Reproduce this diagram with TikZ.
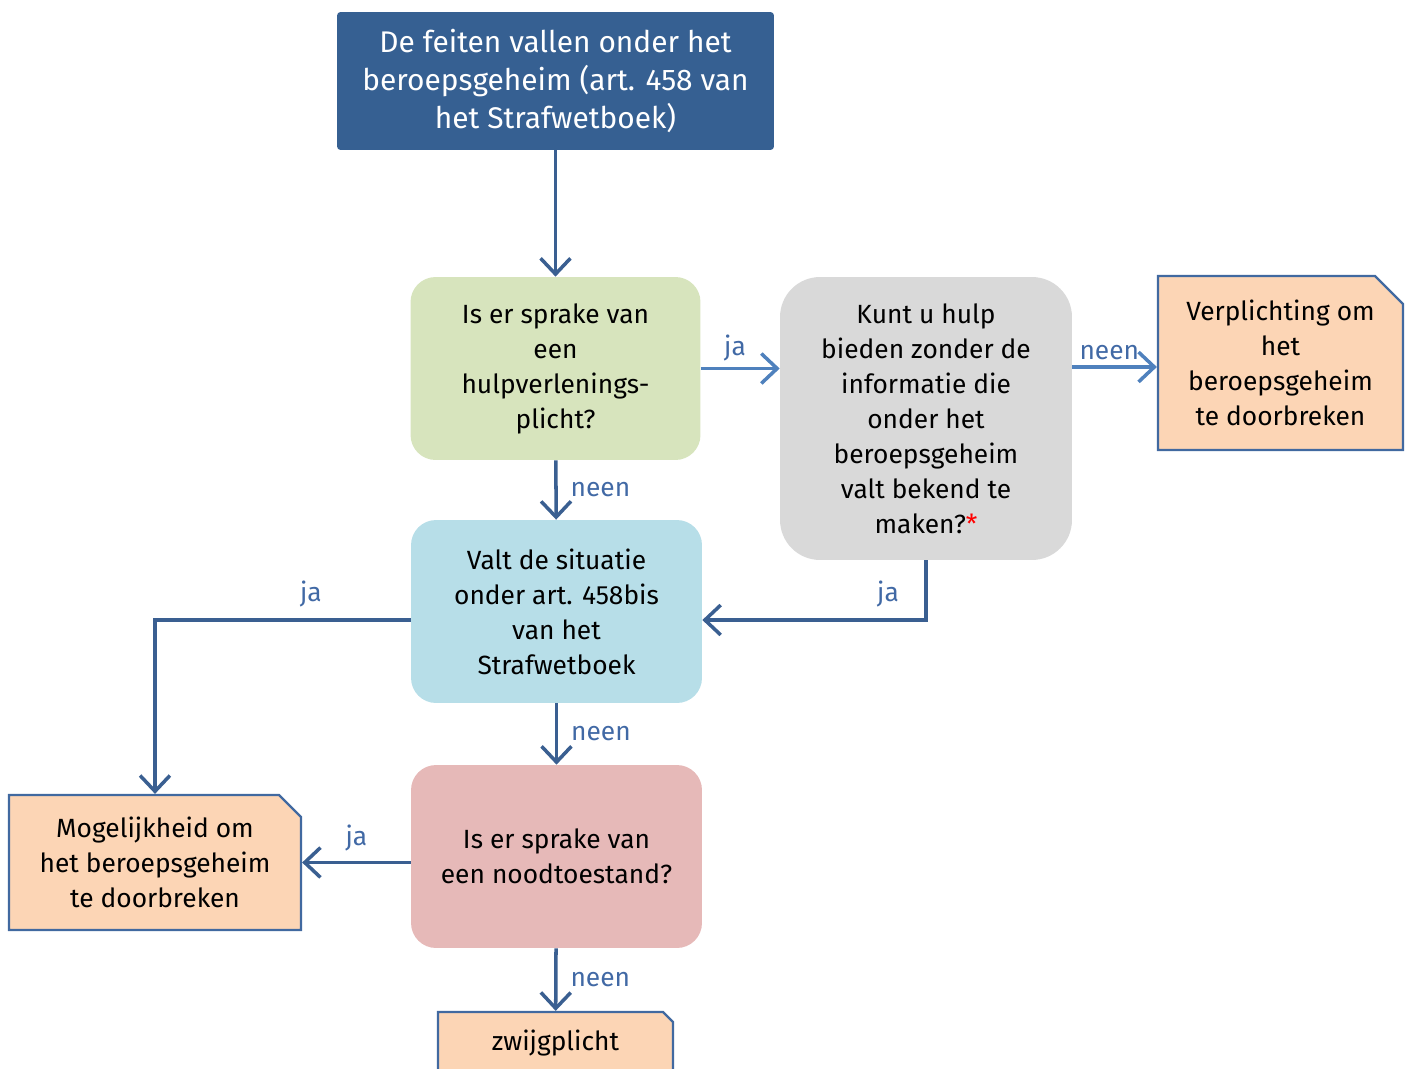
\documentclass[tikz,border=0pt]{standalone}
\usepackage{fontspec}
\setmainfont{Fira Sans}
\usepackage{xcolor}
\definecolor{lwblue}{RGB}{54,96,146}
\definecolor{lwgreen}{RGB}{215,228,189}
\definecolor{lwgrey}{RGB}{217,217,217}
\definecolor{lwcyan}{RGB}{183,222,232}
\definecolor{lwpink}{RGB}{230,185,184}
\definecolor{lworange}{RGB}{252,213,181}
\definecolor{lwedge}{RGB}{65,105,160}
\definecolor{lwdark}{RGB}{58,95,145}
\definecolor{lwlight}{RGB}{79,129,189}
\definecolor{lwlabel}{RGB}{65,105,165}
\usetikzlibrary{arrows.meta,positioning,shapes.misc}

\begin{document}
\begin{tikzpicture}[
  x=0.02cm, y=-0.02cm,
  decision/.style={
    rectangle, rounded corners=0.5cm,
    minimum width=5.8cm, minimum height=3.66cm,
    inner sep=0pt, align=center,
    font=\fontsize{15}{19.9}\selectfont
  },
  outcome/.style={
    chamfered rectangle, chamfered rectangle corners=north east,
    draw=lwedge, line width=1.3pt, fill=lworange,
    inner sep=0pt, align=center,
    font=\fontsize{15}{19.9}\selectfont
  },
  conn/.style={-{Straight Barb[length=9pt,width=17pt]}, line width=2pt, draw=lwdark},
  lbl/.style={font=\fontsize{15}{18}\selectfont, text=lwlabel}
]
\useasboundingbox (0,0) rectangle (1408,1068);

\node[fill=lwblue, text=white, rounded corners=2pt, inner sep=0pt,
  minimum width=8.74cm, minimum height=2.76cm, align=center,
  font=\fontsize{17}{21.6}\selectfont] (start) at (555.5,81)
  {De feiten vallen onder het\\beroepsgeheim (art. 458 van\\het Strafwetboek)};
\node[decision, fill=lwgreen] (hulp) at (555.5,368.5)
  {Is er sprake van\\een\\hulpverlenings-\\plicht?};
\node[decision, fill=lwgrey, rounded corners=0.8cm,
  minimum width=5.84cm, minimum height=5.66cm] (bieden) at (926,418.5)
  {Kunt u hulp\\bieden zonder de\\informatie die\\onder het\\beroepsgeheim\\valt bekend te\\maken?{\color{red}*}};
\node[outcome, minimum width=4.9cm, minimum height=3.48cm,
  chamfered rectangle xsep=0.28cm, chamfered rectangle ysep=0.28cm] (verplicht) at (1280.5,363)
  {Verplichting om\\het\\beroepsgeheim\\te doorbreken};
\node[decision, fill=lwcyan, minimum width=5.82cm] (bis) at (556.5,611.5)
  {Valt de situatie\\onder art. 458bis\\van het\\Strafwetboek};
\node[decision, fill=lwpink, minimum width=5.82cm] (nood) at (556.5,856.5)
  {Is er sprake van\\een noodtoestand?};
\node[outcome, minimum width=5.84cm, minimum height=2.7cm,
  chamfered rectangle xsep=0.22cm, chamfered rectangle ysep=0.22cm] (mogelijk) at (155,862.5)
  {Mogelijkheid om\\het beroepsgeheim\\te doorbreken};
\node[outcome, minimum width=4.7cm, minimum height=1.24cm,
  chamfered rectangle xsep=0.1cm, chamfered rectangle ysep=0.1cm] (zwijg) at (555.5,1043)
  {zwijgplicht};

\draw[conn] (start) -- (hulp);
\draw[conn, draw=lwlight] (hulp.east) -- (hulp.east -| bieden.west)
  node[lbl, midway, above, xshift=-3pt] {ja};
\draw[conn, draw=lwlight] ([yshift=-0.08cm]verplicht.west -| bieden.east) -- ([yshift=-0.08cm]verplicht.west)
  node[lbl, midway, above, xshift=-3pt] {neen};
\draw[conn] (hulp) -- (bis) node[lbl, midway, right, xshift=4pt] {neen};
\draw[conn] (bieden.south) |- ([yshift=-0.17cm]bis.east)
  node[lbl, pos=0.585, above, yshift=3pt] {ja};
\draw[conn] ([yshift=-0.17cm]bis.west) -| (mogelijk.north)
  node[lbl, pos=0.195, above, yshift=3pt] {ja};
\draw[conn] (bis) -- (nood) node[lbl, midway, right, xshift=4pt] {neen};
\draw[conn] (nood.west |- mogelijk.east) -- (mogelijk.east)
  node[lbl, midway, above, yshift=2pt] {ja};
\draw[conn] (nood) -- (zwijg) node[lbl, midway, right, xshift=4pt] {neen};
\end{tikzpicture}
\end{document}
